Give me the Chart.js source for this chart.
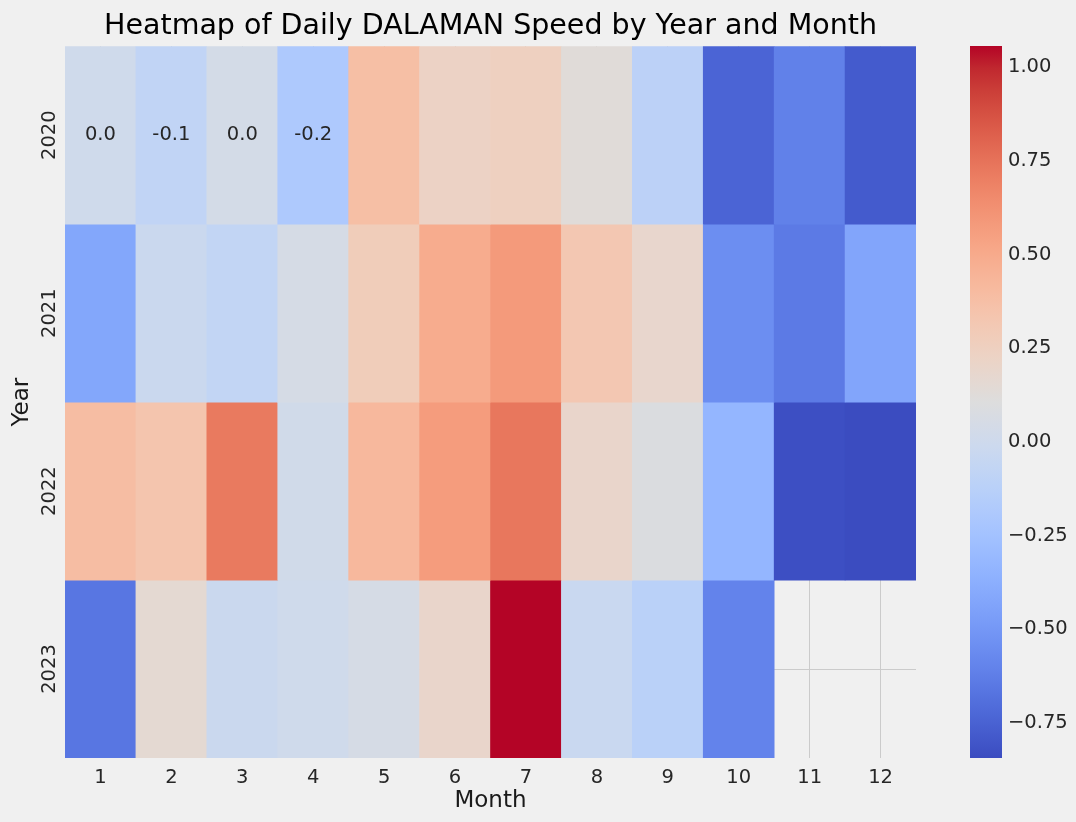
<!DOCTYPE html>
<html>
<head>
<meta charset="utf-8">
<script src="https://cdn.jsdelivr.net/npm/chart.js@4/dist/chart.umd.min.js"></script>
<style>
  html, body { margin: 0; padding: 0; background: #f0f0f0; }
  body { width: 1076px; height: 822px; position: relative; overflow: hidden; }
  #heatmap { position: absolute; left: 0; top: 0; }
  #colorbar { position: absolute; left: 940px; top: 0; }
</style>
</head>
<body>
<canvas id="heatmap" width="981" height="822"></canvas>
<canvas id="colorbar" width="136" height="822"></canvas>
<script>
// values (mean daily speed anomaly)
const months = ['1', '2', '3', '4', '5', '6', '7', '8', '9', '10', '11', '12'];
const years = ['2020', '2021', '2022', '2023'];
const speed2020 = [0.01, -0.08, 0.04, -0.19, 0.38, 0.23, 0.25, 0.13, -0.11, -0.74, -0.61, -0.78];
const speed2021 = [-0.42, -0.02, -0.07, 0.05, 0.28, 0.49, 0.58, 0.32, 0.19, -0.55, -0.64, -0.43];
const speed2022 = [0.39, 0.34, 0.72, 0.02, 0.42, 0.57, 0.73, 0.20, 0.09, -0.33, -0.83, -0.843];
const speed2023 = [-0.66, 0.16, -0.02, 0.01, 0.05, 0.20, 1.056, -0.03, -0.12, -0.60, null, null];
// only these cells carry a number in the original [yearIndex, monthIndex]
const annotatedCells = [[0, 0], [0, 1], [0, 2], [0, 3]];
const colorbarTicks = [-0.75, -0.5, -0.25, 0, 0.25, 0.5, 0.75, 1.0];

const rows = [speed2020, speed2021, speed2022, speed2023];
const allValues = rows.flat().filter(v => v !== null);
const vmin = Math.min(...allValues);
const vmax = Math.max(...allValues);

// matplotlib coolwarm
const coolwarm = [
  [0.2298057, 0.298717966, 0.753683153], [0.26623388, 0.353094838, 0.801466763],
  [0.30386891, 0.406535296, 0.84495867], [0.342804478, 0.458757618, 0.883725899],
  [0.38301334, 0.50941904, 0.917387822], [0.424369608, 0.558148092, 0.945619588],
  [0.46666708, 0.604562568, 0.968154911], [0.509635204, 0.648280772, 0.98478814],
  [0.552953156, 0.688929332, 0.995375608], [0.596262162, 0.726149107, 0.999836203],
  [0.639176211, 0.759599947, 0.998151185], [0.681291281, 0.788964712, 0.990363227],
  [0.722193294, 0.813952739, 0.976574709], [0.761464949, 0.834302879, 0.956945269],
  [0.798691636, 0.849786142, 0.931688648], [0.833466556, 0.860207984, 0.901068838],
  [0.865395197, 0.86541021, 0.865395561], [0.897787179, 0.848937047, 0.820880546],
  [0.924127593, 0.827384882, 0.774508472], [0.944468518, 0.800927443, 0.726736146],
  [0.958852946, 0.769767752, 0.678007945], [0.96732803, 0.734132809, 0.628751763],
  [0.969954137, 0.694266682, 0.579375448], [0.966811177, 0.650421156, 0.530263762],
  [0.958003065, 0.602842431, 0.481775914], [0.943660866, 0.551750968, 0.434243684],
  [0.923944917, 0.49730856, 0.387970225], [0.89904617, 0.439559467, 0.343229596],
  [0.869186849, 0.378313092, 0.300267182], [0.834620542, 0.312874446, 0.259301199],
  [0.795631745, 0.24128379, 0.220525627], [0.752534934, 0.157246067, 0.184115123],
  [0.705673158, 0.01555616, 0.150232812]
];

function cmap(t) {
  t = Math.max(0, Math.min(1, t));
  const pos = t * (coolwarm.length - 1);
  const i = Math.min(Math.floor(pos), coolwarm.length - 2);
  const f = pos - i;
  const c = coolwarm[i].map((a, k) => Math.round(255 * (a + (coolwarm[i + 1][k] - a) * f)));
  return `rgb(${c[0]}, ${c[1]}, ${c[2]})`;
}
const colorFor = v => cmap((v - vmin) / (vmax - vmin));

Chart.defaults.font.family = '"DejaVu Sans", sans-serif';
Chart.defaults.color = '#262626';

const cellLabels = {
  id: 'cellLabels',
  afterDatasetsDraw(chart) {
    const { ctx, scales: { x, y } } = chart;
    ctx.save();
    ctx.font = '19.5px "DejaVu Sans"';
    ctx.fillStyle = '#262626';
    ctx.textAlign = 'center';
    ctx.textBaseline = 'middle';
    annotatedCells.forEach(([yi, mi]) => {
      const v = rows[yi][mi];
      ctx.fillText(v.toFixed(1), x.getPixelForValue(mi), y.getPixelForValue(yi + 0.5));
    });
    ctx.restore();
  }
};

new Chart(document.getElementById('heatmap'), {
  type: 'bar',
  data: {
    labels: months,
    datasets: rows.map((row, i) => ({
      label: years[i],
      data: row.map(v => (v === null ? null : [i, i + 1])),
      backgroundColor: row.map(v => (v === null ? 'rgba(0,0,0,0)' : colorFor(v))),
      borderWidth: 0,
      barPercentage: 1,
      categoryPercentage: 1,
      grouped: false
    }))
  },
  options: {
    responsive: false,
    animation: false,
    layout: { padding: { left: 0, right: 65, top: 0, bottom: 0 } },
    plugins: {
      legend: { display: false },
      tooltip: { enabled: false },
      title: {
        display: true,
        fullSize: false,
        text: 'Heatmap of Daily DALAMAN Speed by Year and Month',
        color: '#000',
        font: { size: 28.5, weight: 'normal' },
        padding: { top: 9, bottom: 3 }
      }
    },
    scales: {
      x: {
        offset: true,
        grid: { offset: false, color: '#cbcbcb', lineWidth: 1, drawTicks: false },
        border: { display: false },
        ticks: { font: { size: 19.5 }, color: '#262626', padding: 8, maxRotation: 0, autoSkip: false },
        title: { display: true, text: 'Month', color: '#1a1a1a', font: { size: 23 }, padding: { top: 0, bottom: 7 } },
        afterFit: s => { s.height = 64; }
      },
      y: {
        type: 'linear',
        reverse: true,
        min: 0,
        max: years.length,
        afterBuildTicks: s => { s.ticks = years.map((_, i) => ({ value: i + 0.5 })); },
        grid: { color: '#cbcbcb', lineWidth: 1, drawTicks: false },
        border: { display: false },
        ticks: {
          font: { size: 19.5 },
          color: '#262626',
          minRotation: 90,
          maxRotation: 90,
          crossAlign: 'center',
          padding: -10,
          callback: v => years[Math.floor(v)]
        },
        title: { display: true, text: 'Year', color: '#1a1a1a', font: { size: 23 }, padding: { top: 8, bottom: 0 } },
        afterFit: s => { s.width = 65; }
      }
    }
  },
  plugins: [cellLabels]
});

new Chart(document.getElementById('colorbar'), {
  type: 'bar',
  data: {
    labels: [''],
    datasets: [{
      data: [[vmin, vmax]],
      borderWidth: 0,
      barPercentage: 1,
      categoryPercentage: 1,
      backgroundColor: ctx => {
        const area = ctx.chart.chartArea;
        if (!area) return 'rgba(0,0,0,0)';
        const g = ctx.chart.ctx.createLinearGradient(0, area.bottom, 0, area.top);
        coolwarm.forEach((_, i) => {
          const t = i / (coolwarm.length - 1);
          g.addColorStop(t, cmap(t));
        });
        return g;
      }
    }]
  },
  options: {
    responsive: false,
    animation: false,
    layout: { padding: { left: 30, right: 0, top: 46, bottom: 64 } },
    plugins: { legend: { display: false }, tooltip: { enabled: false } },
    scales: {
      x: { display: false },
      y: {
        position: 'right',
        min: vmin,
        max: vmax,
        afterBuildTicks: s => { s.ticks = colorbarTicks.map(v => ({ value: v })); },
        grid: { display: false, drawTicks: false },
        border: { display: false },
        ticks: {
          font: { size: 19.5 },
          color: '#262626',
          padding: 6,
          callback: v => (v < 0 ? '\u2212' : '') + Math.abs(v).toFixed(2)
        },
        afterFit: s => { s.width = 74; }
      }
    }
  }
});
</script>
</body>
</html>
